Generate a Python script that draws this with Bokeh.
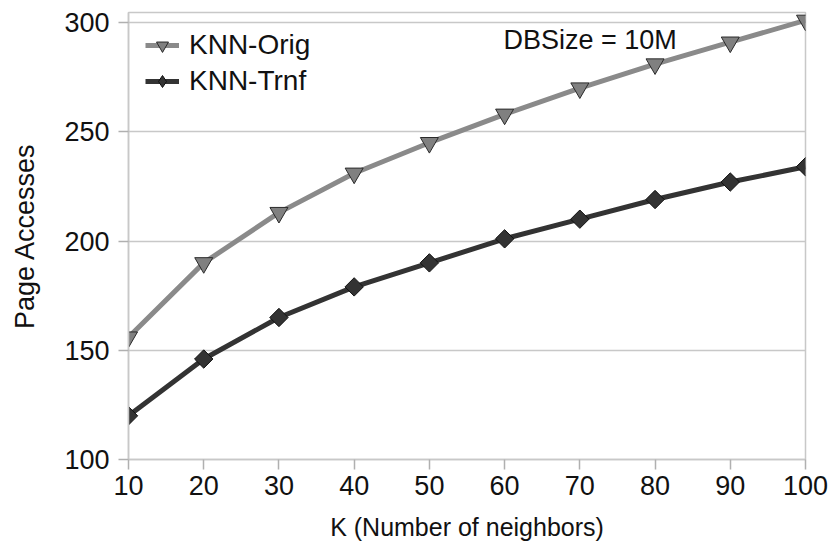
from bokeh.plotting import figure
from bokeh.models import Legend, LegendItem, Label, FixedTicker, Range1d
from bokeh.embed import file_html
from bokeh.resources import INLINE

k_values = [10, 20, 30, 40, 50, 60, 70, 80, 90, 100]
knn_orig = [156, 190, 213, 231, 245, 258, 270, 281, 291, 301]
knn_trnf = [120, 146, 165, 179, 190, 201, 210, 219, 227, 234]
y_ticks = [100, 150, 200, 250, 300]
x_ticks = [10, 20, 30, 40, 50, 60, 70, 80, 90, 100]

FONT = "Liberation Sans"

p = figure(width=836, height=548, output_backend="svg", toolbar_location=None,
           x_range=Range1d(10, 100), y_range=Range1d(100, 304.6),
           min_border_left=128, min_border_right=31, min_border_top=12, min_border_bottom=89)

p.outline_line_color = "#c8c8c8"
p.outline_line_width = 1.5
p.xgrid.grid_line_color = None
p.ygrid.grid_line_color = "#c8c8c8"
p.ygrid.grid_line_width = 1.5

for ax in (p.xaxis[0], p.yaxis[0]):
    ax.axis_line_color = "#c8c8c8"
    ax.axis_line_width = 1.5
    ax.major_tick_line_color = "#b0b0b0"
    ax.major_tick_line_width = 1.5
    ax.major_tick_out = 10
    ax.major_tick_in = 0
    ax.minor_tick_line_color = None
    ax.major_label_text_font = FONT
    ax.major_label_text_font_size = "27px"
    ax.major_label_text_color = "#111111"
    ax.axis_label_text_font = FONT
    ax.axis_label_text_font_style = "normal"
    ax.axis_label_text_color = "#111111"

p.xaxis.axis_label_text_font_size = "25px"
p.yaxis.axis_label_text_font_size = "27px"
p.xaxis.ticker = FixedTicker(ticks=x_ticks)
p.yaxis.ticker = FixedTicker(ticks=y_ticks)
p.xaxis.axis_label = "K (Number of neighbors)"
p.yaxis.axis_label = "Page Accesses"
p.xaxis.major_label_standoff = 6
p.yaxis.major_label_standoff = 9
p.xaxis.axis_label_standoff = 15
p.yaxis.axis_label_standoff = 21

l1 = p.line(k_values, knn_orig, line_color="#8a8a8a", line_width=5)
m1 = p.scatter(k_values, knn_orig, marker="inverted_triangle", size=18,
               fill_color="#808080", line_color="#2a2a2a", line_width=1)
l2 = p.line(k_values, knn_trnf, line_color="#333333", line_width=5)
m2 = p.scatter(k_values, knn_trnf, marker="square", angle=0.785398, size=13,
               fill_color="#333333", line_color="#111111", line_width=1)

# legend-only glyphs (no data drawn in the plot)
lg1 = p.scatter([float("nan")], [float("nan")], marker="inverted_triangle", size=13,
                fill_color="#808080", line_color="#2a2a2a", line_width=1)
lg2 = p.scatter([float("nan")], [float("nan")], marker="diamond", size=19,
                fill_color="#333333", line_color="#111111", line_width=1)

legend = Legend(items=[LegendItem(label="KNN-Orig", renderers=[l1, lg1]),
                       LegendItem(label="KNN-Trnf", renderers=[l2, lg2])],
                location="top_left", background_fill_alpha=0,
                border_line_color=None, label_text_font=FONT,
                label_text_font_size="28px", label_text_color="#111111",
                glyph_width=34, glyph_height=30, spacing=4, padding=4,
                label_standoff=10, margin=17)
p.add_layout(legend)

p.add_layout(Label(x=503 - 128, y=459 - 48 + 9, x_units="screen", y_units="screen",
                   text="DBSize = 10M", text_font=FONT, text_font_size="27px",
                   text_color="#111111", text_baseline="alphabetic"))

open("out.html", "w").write(file_html(p, INLINE))
